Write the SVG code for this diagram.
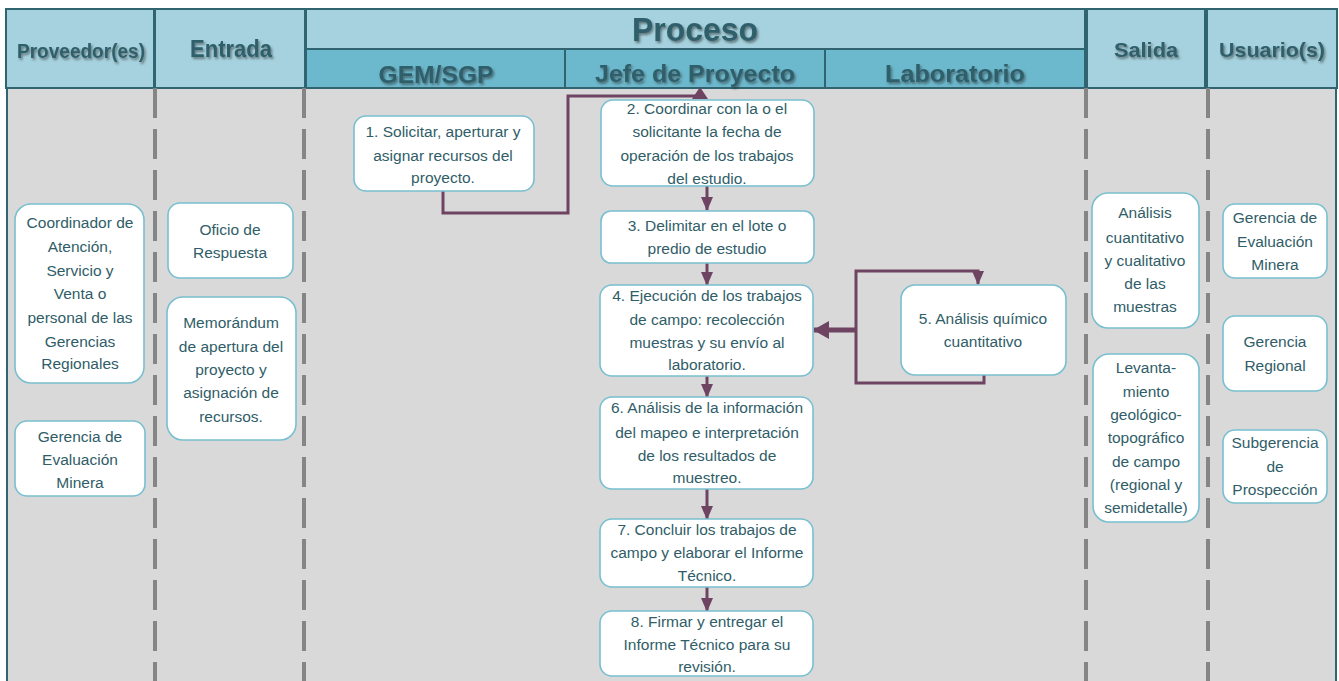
<svg xmlns="http://www.w3.org/2000/svg" width="1339" height="681" viewBox="0 0 1339 681">
<defs>
<filter id="sh" x="-10%" y="-20%" width="130%" height="160%">
<feDropShadow dx="1.5" dy="2" stdDeviation="1" flood-color="#333" flood-opacity="0.55"/>
</filter>
<marker id="ah" viewBox="0 0 14 12" refX="13" refY="6" markerWidth="14" markerHeight="12" markerUnits="userSpaceOnUse" orient="auto">
<path d="M0,0 L14,6 L0,12 Z" fill="#6e4462"/>
</marker>
<marker id="ahb" viewBox="0 0 16 18" refX="15" refY="9" markerWidth="16" markerHeight="18" markerUnits="userSpaceOnUse" orient="auto">
<path d="M0,0 L16,9 L0,18 Z" fill="#6e4462"/>
</marker>
</defs>
<style>
.hd{fill:#a5d2de;stroke:#2f6470;stroke-width:2}
.hd2{fill:#6cb8cc;stroke:#2f6470;stroke-width:2}
.ht{font-family:"Liberation Sans",Arial,sans-serif;font-weight:bold;fill:#2f5f6b;text-anchor:middle;filter:url(#sh)}
.bx{fill:#ffffff;stroke:#78bfd0;stroke-width:1.6}
.t{font-family:"Liberation Sans",Arial,sans-serif;font-size:15.5px;fill:#305d68;text-anchor:middle}
.dash{stroke:#858585;stroke-width:4;stroke-dasharray:30 11;fill:none}
.cn{stroke:#6e4462;stroke-width:3;fill:none}
</style>
<rect x="0" y="0" width="1339" height="681" fill="#ffffff"/>
<rect x="6" y="88" width="1331" height="593" fill="#d9d9d9"/>
<line x1="7" y1="88" x2="7" y2="681" stroke="#2f6470" stroke-width="2"/>
<line x1="1336" y1="88" x2="1336" y2="681" stroke="#2f6470" stroke-width="2"/>

<g id="headers">
<rect class="hd" x="6" y="9" width="148" height="79"/>
<rect class="hd" x="155" y="9" width="150" height="79"/>
<rect class="hd" x="306" y="9" width="779" height="40"/>
<rect class="hd2" x="306" y="49" width="259" height="39"/>
<rect class="hd2" x="565" y="49" width="260" height="39"/>
<rect class="hd2" x="825" y="49" width="260" height="39"/>
<rect class="hd" x="1087" y="9" width="118" height="79"/>
<rect class="hd" x="1207" y="9" width="130" height="79"/>
<text class="ht" x="81" y="58" font-size="20" textLength="128" lengthAdjust="spacingAndGlyphs">Proveedor(es)</text>
<text class="ht" x="231" y="57" font-size="23" textLength="82" lengthAdjust="spacingAndGlyphs">Entrada</text>
<text class="ht" x="695" y="41" font-size="33" textLength="126" lengthAdjust="spacingAndGlyphs">Proceso</text>
<text class="ht" x="436" y="83" font-size="24" textLength="115" lengthAdjust="spacingAndGlyphs">GEM/SGP</text>
<text class="ht" x="695" y="82" font-size="24" textLength="200" lengthAdjust="spacingAndGlyphs">Jefe de Proyecto</text>
<text class="ht" x="955" y="82" font-size="24" textLength="140" lengthAdjust="spacingAndGlyphs">Laboratorio</text>
<text class="ht" x="1146" y="57" font-size="21" textLength="64" lengthAdjust="spacingAndGlyphs">Salida</text>
<text class="ht" x="1272" y="57" font-size="21" textLength="106" lengthAdjust="spacingAndGlyphs">Usuario(s)</text>
</g>

<g id="lanes">
<line class="dash" x1="155" y1="88" x2="155" y2="681"/>
<line class="dash" x1="304" y1="88" x2="304" y2="681"/>
<line class="dash" x1="1086" y1="88" x2="1086" y2="681"/>
<line class="dash" x1="1208" y1="88" x2="1208" y2="681"/>
</g>

<g id="connectors">
<path class="cn" d="M443,190 V213 H568 V96 H700"/>
<polygon points="692,99 708,99 700,87" fill="#6e4462"/>
<line class="cn" x1="707" y1="186" x2="707" y2="210" marker-end="url(#ah)"/>
<line class="cn" x1="707" y1="263" x2="707" y2="285" marker-end="url(#ah)"/>
<line class="cn" x1="707" y1="376" x2="707" y2="397" marker-end="url(#ah)"/>
<line class="cn" x1="707" y1="489" x2="707" y2="519" marker-end="url(#ah)"/>
<line class="cn" x1="707" y1="586" x2="707" y2="611" marker-end="url(#ah)"/>
<path class="cn" d="M984,375 V383 H856 V271 H978 V284" marker-end="url(#ah)"/>
<line x1="856" y1="330" x2="814" y2="330" stroke="#6e4462" stroke-width="5" marker-end="url(#ahb)"/>
</g>

<g id="n-coordinador">
<rect class="bx" x="15" y="204" width="129" height="179" rx="16"/>
<text class="t" x="80" y="228">Coordinador de</text>
<text class="t" x="80" y="252">Atención,</text>
<text class="t" x="80" y="276">Servicio y</text>
<text class="t" x="80" y="299">Venta o</text>
<text class="t" x="80" y="323">personal de las</text>
<text class="t" x="80" y="347">Gerencias</text>
<text class="t" x="80" y="369">Regionales</text>
</g>
<g id="n-gerencia-prov">
<rect class="bx" x="15" y="421" width="130" height="75" rx="12"/>
<text class="t" x="80" y="442">Gerencia de</text>
<text class="t" x="80" y="465">Evaluación</text>
<text class="t" x="80" y="488">Minera</text>
</g>
<g id="n-oficio">
<rect class="bx" x="168" y="203" width="125" height="75" rx="12"/>
<text class="t" x="230" y="235">Oficio de</text>
<text class="t" x="230" y="258">Respuesta</text>
</g>
<g id="n-memo">
<rect class="bx" x="167" y="297" width="129" height="143" rx="16"/>
<text class="t" x="231" y="328">Memorándum</text>
<text class="t" x="231" y="352">de apertura del</text>
<text class="t" x="231" y="375">proyecto  y</text>
<text class="t" x="231" y="398">asignación de</text>
<text class="t" x="231" y="422">recursos.</text>
</g>
<g id="n-1">
<rect class="bx" x="354" y="116" width="180" height="75" rx="12"/>
<text class="t" x="443" y="137">1. Solicitar, aperturar y</text>
<text class="t" x="443" y="161">asignar recursos del</text>
<text class="t" x="443" y="183">proyecto.</text>
</g>
<g id="n-2">
<rect class="bx" x="601" y="100" width="213" height="86" rx="12"/>
<text class="t" x="707" y="114">2. Coordinar con la o el</text>
<text class="t" x="707" y="137">solicitante la fecha de</text>
<text class="t" x="707" y="161">operación de los trabajos</text>
<text class="t" x="707" y="184">del estudio.</text>
</g>
<g id="n-3">
<rect class="bx" x="601" y="211" width="213" height="52" rx="10"/>
<text class="t" x="707" y="231">3. Delimitar en el lote o</text>
<text class="t" x="707" y="254">predio de estudio</text>
</g>
<g id="n-4">
<rect class="bx" x="600" y="285" width="213" height="91" rx="12"/>
<text class="t" x="707" y="301">4. Ejecución de los trabajos</text>
<text class="t" x="707" y="325">de campo: recolección</text>
<text class="t" x="707" y="348">muestras y su envío al</text>
<text class="t" x="707" y="370">laboratorio.</text>
</g>
<g id="n-5">
<rect class="bx" x="901" y="285" width="165" height="90" rx="14"/>
<text class="t" x="983" y="324">5. Análisis químico</text>
<text class="t" x="983" y="347">cuantitativo</text>
</g>
<g id="n-6">
<rect class="bx" x="600" y="397" width="213" height="92" rx="12"/>
<text class="t" x="707" y="413">6. Análisis de la información</text>
<text class="t" x="707" y="438">del mapeo e interpretación</text>
<text class="t" x="707" y="461">de los resultados de</text>
<text class="t" x="707" y="483">muestreo.</text>
</g>
<g id="n-7">
<rect class="bx" x="600" y="519" width="213" height="68" rx="12"/>
<text class="t" x="707" y="535">7. Concluir los trabajos de</text>
<text class="t" x="707" y="558">campo y elaborar el Informe</text>
<text class="t" x="707" y="581">Técnico.</text>
</g>
<g id="n-8">
<rect class="bx" x="600" y="611" width="213" height="65" rx="12"/>
<text class="t" x="707" y="627">8. Firmar y entregar el</text>
<text class="t" x="707" y="650">Informe Técnico para su</text>
<text class="t" x="707" y="672">revisión.</text>
</g>
<g id="n-salida-1">
<rect class="bx" x="1092" y="193" width="107" height="135" rx="16"/>
<text class="t" x="1145" y="218">Análisis</text>
<text class="t" x="1145" y="243">cuantitativo</text>
<text class="t" x="1145" y="266">y cualitativo</text>
<text class="t" x="1145" y="289">de las</text>
<text class="t" x="1145" y="312">muestras</text>
</g>
<g id="n-salida-2">
<rect class="bx" x="1093" y="354" width="106" height="168" rx="16"/>
<text class="t" x="1146" y="373">Levanta-</text>
<text class="t" x="1146" y="397">miento</text>
<text class="t" x="1146" y="420">geológico-</text>
<text class="t" x="1146" y="443">topográfico</text>
<text class="t" x="1146" y="467">de campo</text>
<text class="t" x="1146" y="490">(regional y</text>
<text class="t" x="1146" y="513">semidetalle)</text>
</g>
<g id="n-usuario-1">
<rect class="bx" x="1223" y="204" width="104" height="74" rx="12"/>
<text class="t" x="1275" y="223">Gerencia de</text>
<text class="t" x="1275" y="247">Evaluación</text>
<text class="t" x="1275" y="270">Minera</text>
</g>
<g id="n-usuario-2">
<rect class="bx" x="1223" y="316" width="104" height="75" rx="12"/>
<text class="t" x="1275" y="347">Gerencia</text>
<text class="t" x="1275" y="371">Regional</text>
</g>
<g id="n-usuario-3">
<rect class="bx" x="1223" y="430" width="104" height="73" rx="12"/>
<text class="t" x="1275" y="448">Subgerencia</text>
<text class="t" x="1275" y="472">de</text>
<text class="t" x="1275" y="495">Prospección</text>
</g>
</svg>
